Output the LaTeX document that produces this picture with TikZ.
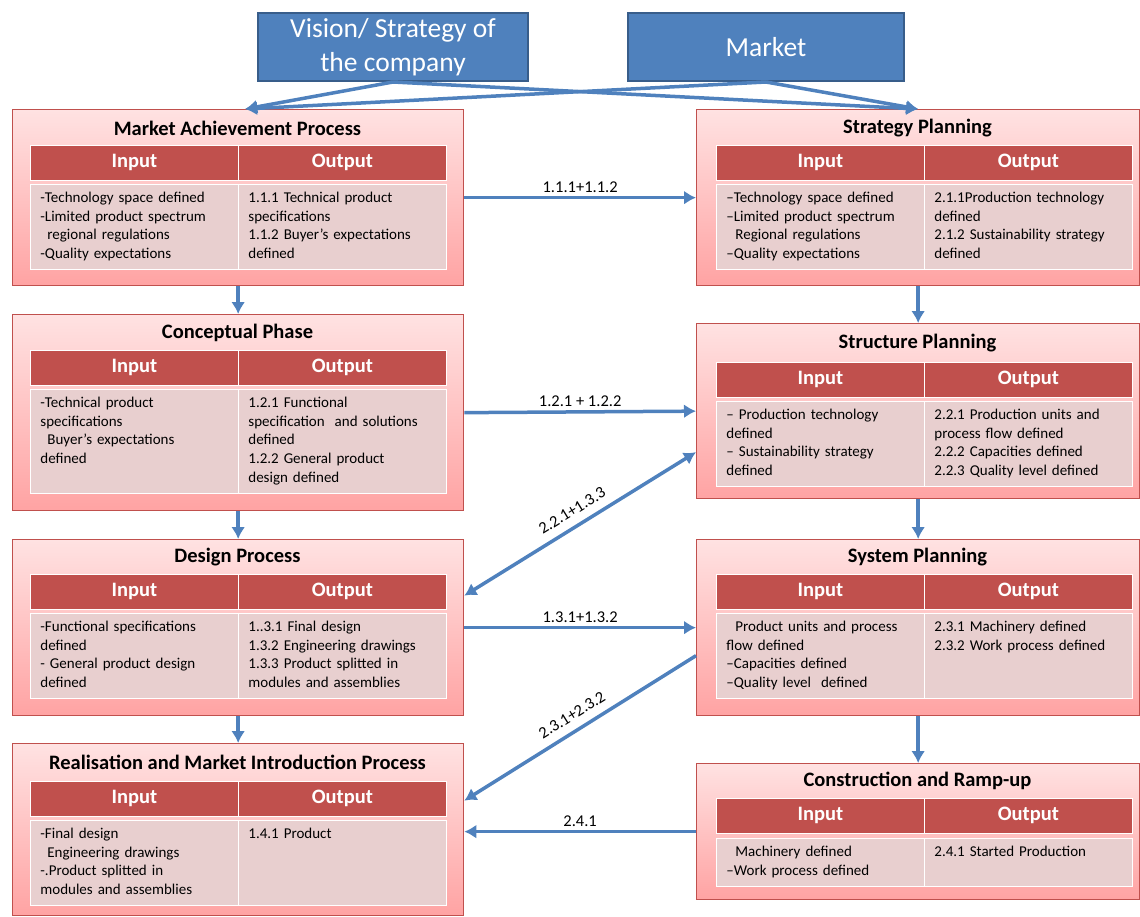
\documentclass[tikz,border=0pt]{standalone}
\usepackage{fontspec}
\setmainfont{Carlito}
\usetikzlibrary{arrows.meta,positioning}
\definecolor{boxred}{HTML}{C0504D}
\definecolor{pinktop}{HTML}{FFE2E2}
\definecolor{pinkbot}{HTML}{FFA3A3}
\definecolor{cellpink}{HTML}{E8CFCF}
\definecolor{flowblue}{HTML}{4F81BD}
\definecolor{blueedge}{HTML}{385D8A}

\begin{document}
\begin{tikzpicture}[x=1pt,y=-1pt,
  top box/.style={draw=blueedge,line width=2pt,fill=flowblue,text=white,font=\fontsize{27.5}{34}\selectfont,align=center,minimum height=68,anchor=north west},
  process/.style={draw=boxred,line width=1.3pt,top color=pinktop,bottom color=pinkbot,anchor=north west,inner sep=0pt},
  title/.style={font=\fontsize{20.5}{22}\selectfont\bfseries},
  head/.style={fill=boxred,draw=white,line width=0.8pt,text=white,font=\fontsize{20.5}{22}\selectfont\bfseries,minimum width=208,minimum height=35,text height=13pt,text depth=4pt,anchor=north west,inner sep=0pt},
  cell/.style={fill=cellpink,draw=white,line width=0.8pt,anchor=north west,text width=188,align=left,inner xsep=10pt,inner ysep=8pt,text height=10pt,text depth=59pt,font=\fontsize{15}{18.7}\selectfont},
  link/.style={draw=flowblue,line width=3.5pt,-{Latex[length=12pt,width=14pt]}},
  both link/.style={draw=flowblue,line width=3.5pt,{Latex[length=12pt,width=14pt]}-{Latex[length=12pt,width=14pt]}},
  tag/.style={font=\fontsize{16.5}{18}\selectfont}]
\useasboundingbox (0,0) rectangle (1140,916);
% sources on top
\node[top box,minimum width=270] (vision) at (257,12) {Vision/ Strategy of\\the company};
\node[top box,minimum width=276] (market) at (627,12) {Market};
% left column
\node[process,minimum width=451,minimum height=176] (map) at (12,109) {};
\node[title] (map title) at (237.5,128) {Market Achievement Process};
\node[head] (map in) at (30,145) {Input};
\node[head] (map out) at (238,145) {Output};
\node[cell] (map input) at (30,184) {-Technology space defined\\-Limited product spectrum\\\hspace*{7pt}regional regulations\\-Quality expectations};
\node[cell] (map output) at (238,184) {1.1.1 Technical product\\specifications\\1.1.2 Buyer’s expectations\\defined};

\node[process,minimum width=451,minimum height=196] (cp) at (12,314) {};
\node[title] (cp title) at (237.5,333) {Conceptual Phase};
\node[head] (cp in) at (30,350) {Input};
\node[head] (cp out) at (238,350) {Output};
\node[cell,text depth=78pt] (cp input) at (30,389) {-Technical product\\specifications\\\hspace*{7pt}Buyer’s expectations\\defined};
\node[cell,text depth=78pt] (cp output) at (238,389) {1.2.1 Functional\\specification\ \ and solutions\\defined\\1.2.2 General product\\design defined};

\node[process,minimum width=451,minimum height=176] (dp) at (12,539) {};
\node[title] (dp title) at (237.5,557) {Design Process};
\node[head] (dp in) at (30,574) {Input};
\node[head] (dp out) at (238,574) {Output};
\node[cell] (dp input) at (30,613) {-Functional specifications\\defined\\- General product design\\defined};
\node[cell] (dp output) at (238,613) {1..3.1 Final design\\1.3.2 Engineering drawings\\1.3.3 Product splitted in\\modules and assemblies};

\node[process,minimum width=451,minimum height=172] (rmip) at (12,743) {};
\node[title] (rmip title) at (237.5,762) {Realisation and Market Introduction Process};
\node[head] (rmip in) at (30,781) {Input};
\node[head] (rmip out) at (238,781) {Output};
\node[cell] (rmip input) at (30,820) {-Final design\\\hspace*{7pt}Engineering drawings\\-.Product splitted in\\modules and assemblies};
\node[cell] (rmip output) at (238,820) {1.4.1 Product};
% right column
\node[process,minimum width=443,minimum height=176] (sp) at (696,109) {};
\node[title] (sp title) at (917.5,128) {Strategy Planning};
\node[head] (sp in) at (716,145) {Input};
\node[head] (sp out) at (924,145) {Output};
\node[cell] (sp input) at (716,184) {–Technology space defined\\–Limited product spectrum\\\hspace*{9pt}Regional regulations\\–Quality expectations};
\node[cell] (sp output) at (924,184) {2.1.1Production technology\\defined\\2.1.2 Sustainability strategy\\defined};

\node[process,minimum width=443,minimum height=175] (stp) at (696,323) {};
\node[title] (stp title) at (917.5,343) {Structure Planning};
\node[head] (stp in) at (716,362) {Input};
\node[head] (stp out) at (924,362) {Output};
\node[cell] (stp input) at (716,401) {– Production technology\\defined\\– Sustainability strategy\\defined};
\node[cell] (stp output) at (924,401) {2.2.1 Production units and\\process flow defined\\2.2.2 Capacities defined\\2.2.3 Quality level defined};

\node[process,minimum width=443,minimum height=176] (syp) at (696,539) {};
\node[title] (syp title) at (917.5,557) {System Planning};
\node[head] (syp in) at (716,574) {Input};
\node[head] (syp out) at (924,574) {Output};
\node[cell] (syp input) at (716,613) {\hspace*{9pt}Product units and process\\flow defined\\–Capacities defined\\–Quality level\ \ defined};
\node[cell] (syp output) at (924,613) {2.3.1 Machinery defined\\2.3.2 Work process defined};

\node[process,minimum width=443,minimum height=136] (cr) at (696,763) {};
\node[title] (cr title) at (917.5,781) {Construction and Ramp-up};
\node[head] (cr in) at (716,798) {Input};
\node[head] (cr out) at (924,798) {Output};
\node[cell,text depth=22pt] (cr input) at (716,838) {\hspace*{9pt}Machinery defined\\–Work process defined};
\node[cell,text depth=22pt] (cr output) at (924,838) {2.4.1 Started Production};
% connectors
\draw[link] (vision.south) -- ([xshift=7pt]map.north);
\draw[link] (vision.south) -- (sp.north);
\draw[link] (market.south) -- ([xshift=7pt]map.north);
\draw[link] (market.south) -- (sp.north);
\draw[link] (map.south) -- (cp.north);
\draw[link] (cp.south) -- (dp.north);
\draw[link] (dp.south) -- (rmip.north);
\draw[link] (sp.south) -- (stp.north);
\draw[link] (stp.south) -- (syp.north);
\draw[link] (syp.south) -- (cr.north);
\draw[link] (map.east) -- node[tag,above]{1.1.1+1.1.2} (sp.west);
\draw[link] (cp.east) -- node[tag,above]{1.2.1 + 1.2.2} (stp.west);
\draw[both link] ([yshift=-41pt]stp.west) -- node[tag,above=5pt,sloped]{2.2.1+1.3.3} ([yshift=32pt]dp.east);
\draw[link] (dp.east) -- node[tag,above]{1.3.1+1.3.2} (syp.west);
\draw[link] ([yshift=-28pt]syp.west) -- node[tag,above=5pt,sloped]{2.3.1+2.3.2} ([yshift=29pt]rmip.east);
\draw[link] (cr.west) -- node[tag,above]{2.4.1} (cr.west -| rmip.east);
\end{tikzpicture}
\end{document}
